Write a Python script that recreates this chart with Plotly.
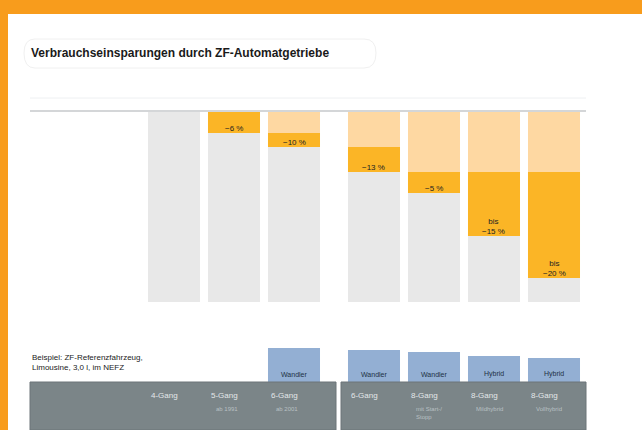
import plotly.graph_objects as go

W, H = 642, 430
def px(v): return v / W
def py(v): return 1 - v / H

# ---- data ----
title = "Verbrauchseinsparungen durch ZF-Automatgetriebe"
group1 = ["4-Gang", "5-Gang", "6-Gang"]
group2 = ["6-Gang", "8-Gang", "8-Gang", "8-Gang"]
sub1 = ["", "ab 1991", "ab 2001"]
sub2 = ["", "mit Start-/<br>Stopp", "Mildhybrid", "Vollhybrid"]
full_scale = 100
prev1 = [0, 0, 11.5]
total1 = [0, 11.5, 18.8]
prev2 = [18.8, 31.9, 31.9, 31.9]
total2 = [31.9, 42.9, 65.4, 87.4]
labels1 = ["", "−6 %", "−10 %"]
labels2 = ["−13 %", "−5 %", "bis<br>−15 %", "bis<br>−20 %"]
blue1 = [None, None, 34]
blue2 = [32, 30, 26, 24]
blue_text1 = ["", "", "Wandler"]
blue_text2 = ["Wandler", "Wandler", "Hybrid", "Hybrid"]
note = "Beispiel: ZF-Referenzfahrzeug,<br>Limousine, 3,0 l, im NEFZ"

GRAY = "#e8e8e8"
LORANGE = "#fed8a2"
DORANGE = "#fbb526"
BLUE = "#93afd3"
BAND = "#7b8588"
FONT = "Liberation Sans"
BW = 0.867

fig = go.Figure()

def add_group(xa, n, prev, total, blue):
    idx = list(range(n))
    fig.add_trace(go.Bar(x=idx, y=[full_scale] * n, base=0, width=BW, marker_color=GRAY,
                         marker_line_width=0, xaxis=xa, yaxis="y", hoverinfo="skip"))
    fig.add_trace(go.Bar(x=idx, y=prev, base=0, width=BW, marker_color=LORANGE,
                         marker_line_width=0, xaxis=xa, yaxis="y", hoverinfo="skip"))
    fig.add_trace(go.Bar(x=idx, y=[t - p for t, p in zip(total, prev)], base=prev, width=BW,
                         marker_color=DORANGE, marker_line_width=0, xaxis=xa, yaxis="y",
                         hoverinfo="skip"))
    fig.add_trace(go.Bar(x=idx, y=blue, base=0, width=BW, marker_color=BLUE,
                         marker_line_width=0, xaxis=xa, yaxis="y3", hoverinfo="skip"))

add_group("x", len(group1), prev1, total1, blue1)
add_group("x2", len(group2), prev2, total2, blue2)

ann = []
def group_ann(xref, names, subs, labels, total, btxt, blue):
    for i, nm in enumerate(names):
        ann.append(dict(x=i - BW / 2 + 0.02, xref=xref, y=py(395), yref="paper", text=nm,
                        showarrow=False, xanchor="left", yanchor="middle",
                        font=dict(family=FONT, size=8, color="#e4e8ea")))
        if subs[i]:
            ann.append(dict(x=i - BW / 2 + 0.1, xref=xref, y=py(404), yref="paper", text=subs[i],
                            showarrow=False, xanchor="left", yanchor="top", align="left",
                            font=dict(family=FONT, size=6, color="#b9c0c3")))
        if labels[i]:
            ann.append(dict(x=i, xref=xref, y=total[i], yref="y", text=labels[i],
                            showarrow=False, xanchor="center", yanchor="bottom", yshift=-2,
                            font=dict(family=FONT, size=8, color="#222222")))
        if btxt[i] and blue[i]:
            ann.append(dict(x=i, xref=xref, y=0, yref="y3", text=btxt[i], showarrow=False,
                            xanchor="center", yanchor="bottom", yshift=2,
                            font=dict(family=FONT, size=7, color="#223044")))

group_ann("x", group1, sub1, labels1, total1, blue_text1, blue1)
group_ann("x2", group2, sub2, labels2, total2, blue_text2, blue2)

ann.append(dict(x=px(29), y=py(53), xref="paper", yref="paper", text="<b>" + title + "</b>",
                showarrow=False, xanchor="left", yanchor="middle",
                font=dict(family=FONT, size=12, color="#1a1a1a")))
ann.append(dict(x=px(30), y=py(362), xref="paper", yref="paper", text=note, align="left",
                showarrow=False, xanchor="left", yanchor="middle",
                font=dict(family=FONT, size=8, color="#222222")))

shapes = [
    # orange frame
    dict(type="rect", xref="paper", yref="paper", x0=0, x1=1, y0=py(14), y1=1,
         fillcolor="#f89c1c", line_width=0, layer="below"),
    dict(type="rect", xref="paper", yref="paper", x0=0, x1=px(8), y0=0, y1=1,
         fillcolor="#f89c1c", line_width=0, layer="below"),
    # title outline
    dict(type="path", xref="paper", yref="paper",
         path=f"M {px(35)},{py(39)} L {px(364)},{py(39)} Q {px(376)},{py(39)} {px(376)},{py(53)} "
              f"Q {px(376)},{py(68)} {px(364)},{py(68)} L {px(35)},{py(68)} "
              f"Q {px(24)},{py(68)} {px(24)},{py(53)} Q {px(24)},{py(39)} {px(35)},{py(39)} Z",
         line=dict(color="#f0f0f0", width=1), layer="below"),
    # top rules
    dict(type="line", xref="paper", yref="paper", x0=px(30), x1=px(586), y0=py(98), y1=py(98),
         line=dict(color="#eef0f2", width=1)),
    dict(type="line", xref="paper", yref="paper", x0=px(30), x1=px(586), y0=py(111), y1=py(111),
         line=dict(color="#d4d6d8", width=2)),
    # bottom band
    dict(type="rect", xref="paper", yref="paper", x0=px(30), x1=px(336), y0=0, y1=py(382),
         fillcolor=BAND, line=dict(color="#6c7578", width=1)),
    dict(type="rect", xref="paper", yref="paper", x0=px(341), x1=px(586), y0=0, y1=py(382),
         fillcolor=BAND, line=dict(color="#6c7578", width=1)),
]

fig.update_layout(
    width=W, height=H, margin=dict(l=0, r=0, t=0, b=0),
    paper_bgcolor="white", plot_bgcolor="rgba(0,0,0,0)",
    barmode="overlay", showlegend=False,
    xaxis=dict(domain=[px(144), px(324)], range=[-0.5, 2.5], visible=False, fixedrange=True),
    xaxis2=dict(domain=[px(344), px(584)], range=[-0.5, 3.5], visible=False, fixedrange=True),
    yaxis=dict(domain=[py(302), py(111)], range=[full_scale, 0], visible=False),
    yaxis3=dict(domain=[py(382), py(340)], range=[0, 42], visible=False),
    annotations=ann, shapes=shapes,
)
fig.write_html("out.html")
